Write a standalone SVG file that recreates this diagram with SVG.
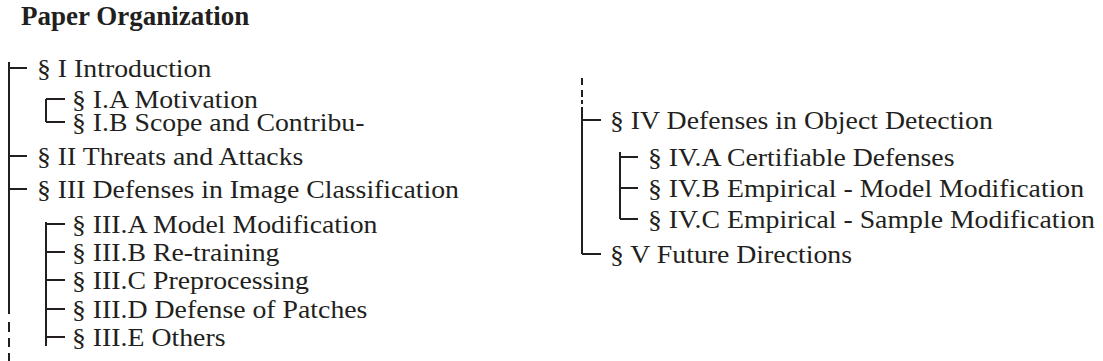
<svg xmlns="http://www.w3.org/2000/svg" width="1103" height="361" viewBox="0 0 1103 361">
<style>
text{font-family:"Liberation Serif","Times New Roman",serif;fill:#231f20;font-size:25.5px}
.title{font-weight:bold;font-size:27px}
.ln{stroke:#231f20;stroke-width:2;fill:none}
</style>
<rect width="1103" height="361" fill="#fff"/>
<text class="title" x="21" y="25">Paper Organization</text>
<g id="connectors">
<path class="ln" d="M9 62V314M9 322V332M9 338V347M9 353V361"/>
<path class="ln" d="M9 68H27M9 156H27M9 189H27"/>
<path class="ln" d="M46 99V122M46 99H65M46 122H65"/>
<path class="ln" d="M46 222V346M46 224H65M46 252H65M46 280H65M46 309H65M46 337H65"/>
<path class="ln" d="M582 78V85M582 90V97M582 100V104M582 107V254"/>
<path class="ln" d="M582 120H601M582 254H601"/>
<path class="ln" d="M620 152V219M620 157H638M620 188H638M620 219H638"/>
</g>
<g id="n-I"><text transform="translate(37,76.5) scale(1.09,1)">§ I Introduction</text></g>
<g id="n-IA"><text transform="translate(72,107.5) scale(1.09,1)">§ I.A Motivation</text></g>
<g id="n-IB"><text transform="translate(72,130.5) scale(1.09,1)">§ I.B Scope and Contribu-</text></g>
<g id="n-II"><text transform="translate(37,164.5) scale(1.09,1)">§ II Threats and Attacks</text></g>
<g id="n-III"><text transform="translate(37,197.5) scale(1.09,1)">§ III Defenses in Image Classification</text></g>
<g id="n-IIIA"><text transform="translate(72,232.5) scale(1.09,1)">§ III.A Model Modification</text></g>
<g id="n-IIIB"><text transform="translate(72,260.5) scale(1.09,1)">§ III.B Re-training</text></g>
<g id="n-IIIC"><text transform="translate(72,288.5) scale(1.09,1)">§ III.C Preprocessing</text></g>
<g id="n-IIID"><text transform="translate(72,317.5) scale(1.09,1)">§ III.D Defense of Patches</text></g>
<g id="n-IIIE"><text transform="translate(72,345.5) scale(1.09,1)">§ III.E Others</text></g>
<g id="n-IV"><text transform="translate(610,128.5) scale(1.09,1)">§ IV Defenses in Object Detection</text></g>
<g id="n-IVA"><text transform="translate(648,165.5) scale(1.09,1)">§ IV.A Certifiable Defenses</text></g>
<g id="n-IVB"><text transform="translate(648,196.5) scale(1.09,1)">§ IV.B Empirical - Model Modification</text></g>
<g id="n-IVC"><text transform="translate(648,227.5) scale(1.09,1)">§ IV.C Empirical - Sample Modification</text></g>
<g id="n-V"><text transform="translate(610,262.5) scale(1.09,1)">§ V Future Directions</text></g>
</svg>
